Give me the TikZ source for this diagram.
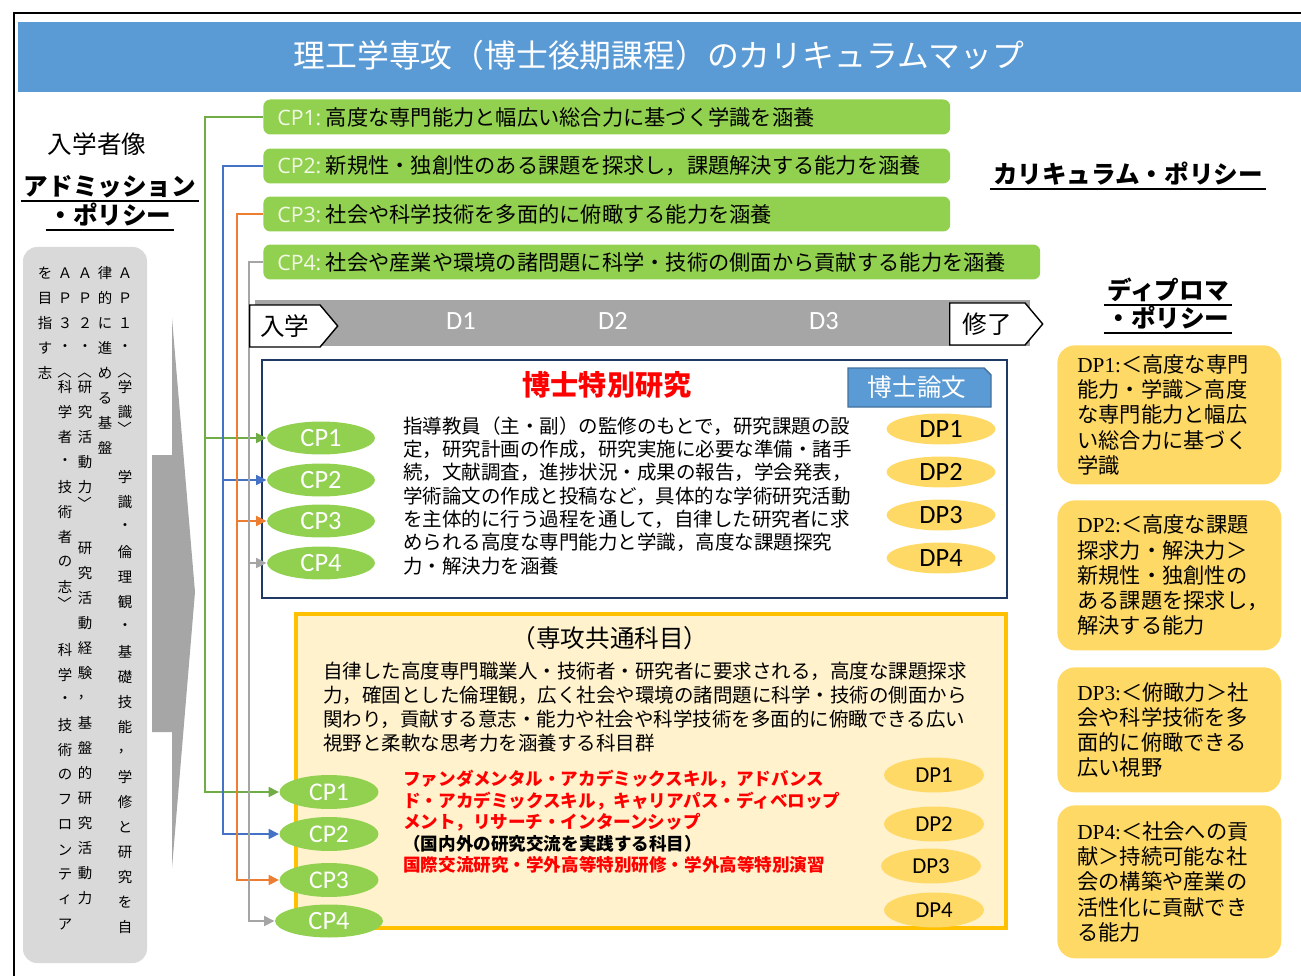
\documentclass[tikz,border=0pt]{standalone}
\usepackage{fontspec}
\setmainfont{Noto Sans CJK JP}
\newfontfamily\calfont{Carlito}
\newfontfamily\labfont{Open Sans}
\newfontfamily\dpserif{Liberation Serif}
\usetikzlibrary{arrows.meta,shapes.geometric,shapes.symbols}

\definecolor{bargreen}{HTML}{92D050}
\definecolor{lgreen}{HTML}{70AD47}
\definecolor{lblue}{HTML}{4472C4}
\definecolor{lorange}{HTML}{ED7D31}
\definecolor{lgray}{HTML}{A5A5A5}
\definecolor{banner}{HTML}{5B9BD5}
\definecolor{bannerline}{HTML}{41719C}
\definecolor{tlgray}{HTML}{A6A6A6}
\definecolor{navy}{HTML}{203864}
\definecolor{dpyellow}{HTML}{FFD966}
\definecolor{paleyellow}{HTML}{FFF2CC}
\definecolor{gold}{HTML}{FFC000}
\definecolor{apgray}{HTML}{D9D9D9}
\definecolor{cplab}{HTML}{F2F9E6}

% one column of the vertical admission text
\newcommand\apcol[3]{\foreach \ch [count=\k from 0] in {#3} {\node[apchar] (ap-#1-#2-\k) at (#1,#2+25*\k) {\ch};}}

\begin{document}
\begin{tikzpicture}[x=0.02cm,y=-0.02cm,
    every node/.style={inner sep=0pt},
    cpbar/.style={rectangle,rounded corners=4pt,fill=bargreen,anchor=west,minimum height=0.7cm,inner xsep=0.28cm,align=left,font=\fontsize{12.1}{12}\selectfont},
    cpoval/.style={ellipse,fill=bargreen,text=white,font=\calfont\fontsize{15}{15}\selectfont,minimum width=2.16cm,minimum height=0.66cm},
    dpoval/.style={ellipse,fill=dpyellow,font=\calfont\fontsize{15}{15}\selectfont,minimum width=2.18cm,minimum height=0.62cm},
    dpbox/.style={rectangle,rounded corners=10pt,fill=dpyellow,anchor=north west,minimum width=4.48cm,text width=3.68cm,inner xsep=0.4cm,align=left,font=\fontsize{12.1}{14.35}\selectfont},
    apchar/.style={font=\fontsize{8.2}{8.2}\selectfont},
    link/.style={line width=1.4pt,-{Triangle[length=6pt,width=5.5pt]}},
    uhead/.style={font=\bfseries\fontsize{14}{14}\selectfont,inner sep=1.5pt},
    period/.style={signal,signal to=east,draw=black,fill=white,line width=0.8pt,signal pointer angle=100,minimum height=0.84cm,font=\fontsize{14}{14}\selectfont}]
  \useasboundingbox (0,0) rectangle (1301,976);

  % frame and title
  \draw[line width=1.2pt] (14,976) -- (14,13) -- (1301,13);
  \fill[banner] (18,22) rectangle (1301,92);
  \node[text=white,font=\fontsize{18.1}{18}\selectfont] (title) at (659,55) {理工学専攻（博士後期課程）のカリキュラムマップ};

  % admission policy
  \node[font=\fontsize{14}{14}\selectfont] (nyugaku) at (97,144) {入学者像};
  \node[uhead] (ap1) at (110,187) {アドミッション};
  \node[uhead] (ap2) at (110,215) {・ポリシー};
  \draw[line width=1.2pt] (ap1.south west) -- (ap1.south east);
  \draw[line width=1.2pt] (ap2.south west) -- (ap2.south east);
  \fill[apgray,rounded corners=8pt] (23,247) rectangle (147,963);
  \apcol{125}{273}{Ａ,Ｐ,１,・}
  \apcol{125}{387}{学,識}
  \apcol{125}{477}{学,識,・,倫,理,観,・,基,礎,技,能,，,学,修,と,研,究,を,自}
  \apcol{105}{273}{律,的,に,進,め,る,基,盤}
  \apcol{85}{273}{Ａ,Ｐ,２,・}
  \apcol{85}{387}{研,究,活,動,力}
  \apcol{85}{548}{研,究,活,動,経,験,，,基,盤,的,研,究,活,動,力}
  \apcol{65}{273}{Ａ,Ｐ,３,・}
  \apcol{65}{387}{科,学,者,・,技,術,者,の,志}
  \apcol{65}{650}{科,学,・,技,術,の,フ,ロ,ン,テ,ィ,ア}
  \apcol{45}{273}{を,目,指,す,志}
  \foreach \cx/\top/\bot in {125/372/429, 85/372/504, 65/372/604} {
    \node[apchar,rotate=-90] (open-\cx) at (\cx,\top) {〈};
    \node[apchar,rotate=-90] (close-\cx) at (\cx,\bot) {〉};
  }
  \fill[tlgray] (152,455) -- (172,455) -- (172,318) -- (195,592) -- (172,868) -- (172,732) -- (152,732) -- cycle;

  % curriculum policy bars
  \node[cpbar,text width=13.18cm] (cpbar1) at (263,117) {{\labfont\color{cplab}CP1:}\hspace{2.5pt}高度な専門能力と幅広い総合力に基づく学識を涵養};
  \node[cpbar,text width=13.18cm] (cpbar2) at (263,166) {{\labfont\color{cplab}CP2:}\hspace{2.5pt}新規性・独創性のある課題を探求し，課題解決する能力を涵養};
  \node[cpbar,text width=13.18cm] (cpbar3) at (263,214) {{\labfont\color{cplab}CP3:}\hspace{2.5pt}社会や科学技術を多面的に俯瞰する能力を涵養};
  \node[cpbar,text width=14.98cm] (cpbar4) at (263,262) {{\labfont\color{cplab}CP4:}\hspace{2.5pt}社会や産業や環境の諸問題に科学・技術の側面から貢献する能力を涵養};
  \node[uhead] (cphead) at (1128,174) {カリキュラム・ポリシー};
  \draw[line width=1.2pt] (cphead.south west) -- (cphead.south east);

  % diploma policy
  \node[uhead] (dphead1) at (1168,290) {ディプロマ};
  \node[uhead] (dphead2) at (1168,318) {・ポリシー};
  \draw[line width=1.2pt] (dphead1.south west) -- (dphead1.south east);
  \draw[line width=1.2pt] (dphead2.south west) -- (dphead2.south east);
  \node[dpbox,minimum height=2.78cm] (dpbox1) at (1057,345) {{\dpserif DP1:}＜高度な専門\\能力・学識＞高度\\な専門能力と幅広\\い総合力に基づく\\学識};
  \node[dpbox,minimum height=3.0cm] (dpbox2) at (1057,500) {{\dpserif DP2:}＜高度な課題\\探求力・解決力＞\\新規性・独創性の\\ある課題を探求し，\\解決する能力};
  \node[dpbox,minimum height=2.5cm] (dpbox3) at (1057,667) {{\dpserif DP3:}＜俯瞰力＞社\\会や科学技術を多\\面的に俯瞰できる\\広い視野};
  \node[dpbox,minimum height=3.06cm] (dpbox4) at (1057,805) {{\dpserif DP4:}＜社会への貢\\献＞持続可能な社\\会の構築や産業の\\活性化に貢献でき\\る能力};

  % doctoral research
  \draw[navy,line width=1.5pt] (262,360) rectangle (1007,598);
  \node[font=\bfseries\fontsize{16}{16}\selectfont,text=red] (tokken) at (607,385) {博士特別研究};
  \filldraw[fill=banner,draw=bannerline,line width=0.8pt] (848,368) -- (984,368) -- (991,375) -- (991,407) -- (848,407) -- cycle;
  \node[text=white,font=\fontsize{14}{14}\selectfont] (ronbun) at (917,387) {博士論文};
  \node[anchor=north west,align=left,font=\fontsize{11.1}{13.3}\selectfont] (tokkentext) at (403,416) {指導教員（主・副）の監修のもとで，研究課題の設\\定，研究計画の作成，研究実施に必要な準備・諸手\\続，文献調査，進捗状況・成果の報告，学会発表，\\学術論文の作成と投稿など，具体的な学術研究活動\\を主体的に行う過程を通して，自律した研究者に求\\められる高度な専門能力と学識，高度な課題探究\\力・解決力を涵養};
  \foreach \i/\y in {1/438,2/480,3/521,4/563}
    \node[cpoval] (cpa\i) at (321,\y) {CP\i};
  \foreach \i/\y in {1/429,2/472,3/515,4/558}
    \node[dpoval] (dpa\i) at (941,\y) {DP\i};

  % common subjects
  \filldraw[fill=paleyellow,draw=gold,line width=2pt] (296,614) rectangle (1006,928);
  \node[font=\fontsize{14}{14}\selectfont] (kyotsu) at (610,638) {（専攻共通科目）};
  \node[anchor=north west,align=left,font=\fontsize{11.1}{13.6}\selectfont] (kyotsutext) at (323,662) {自律した高度専門職業人・技術者・研究者に要求される，高度な課題探求\\力，確固とした倫理観，広く社会や環境の諸問題に科学・技術の側面から\\関わり，貢献する意志・能力や社会や科学技術を多面的に俯瞰できる広い\\視野と柔軟な思考力を涵養する科目群};
  \node[anchor=north west,align=left,font=\bfseries\fontsize{10}{12.2}\selectfont] (kamoku) at (403,770) {\textcolor{red}{ファンダメンタル・アカデミックスキル，アドバンス}\\\textcolor{red}{ド・アカデミックスキル，キャリアパス・ディベロップ}\\\textcolor{red}{メント，リサーチ・インターンシップ}\\（国内外の研究交流を実践する科目）\\\textcolor{red}{国際交流研究・学外高等特別研修・学外高等特別演習}};
  \foreach \i/\y in {1/792,2/834,3/880}
    \node[cpoval,minimum width=1.98cm,minimum height=0.68cm,font=\calfont\fontsize{14.5}{14.5}\selectfont] (cpb\i) at (329,\y) {CP\i};
  \node[cpoval] (cpb4) at (329,921) {CP4};
  \foreach \i/\x/\y in {1/934/775,2/934/824,3/931/866,4/934/910}
    \node[dpoval,minimum width=2.0cm,minimum height=0.7cm,font=\calfont\fontsize{13}{13}\selectfont] (dpb\i) at (\x,\y) {DP\i};

  % connectors from the bars
  \coordinate (vgreen) at (205,0);
  \coordinate (vblue) at (223,0);
  \coordinate (vorange) at (237,0);
  \coordinate (vgray) at (249,0);
  \draw[link,lgreen] (cpbar1.west) -| (vgreen |- cpa1.west) -- (cpa1.west);
  \draw[link,lgreen] (cpbar1.west) -| (vgreen |- cpb1.west) -- (cpb1.west);
  \draw[link,lblue] (cpbar2.west) -| (vblue |- cpa2.west) -- (cpa2.west);
  \draw[link,lblue] (cpbar2.west) -| (vblue |- cpb2.west) -- (cpb2.west);
  \draw[link,lorange] (cpbar3.west) -| (vorange |- cpa3.west) -- (cpa3.west);
  \draw[link,lorange] (cpbar3.west) -| (vorange |- cpb3.west) -- (cpb3.west);
  \draw[link,lgray] (cpbar4.west) -| (vgray |- cpa4.west) -- (cpa4.west);
  \draw[link,lgray] (cpbar4.west) -| (vgray |- cpb4.west) -- (cpb4.west);

  % time line
  \fill[tlgray] (255,300) rectangle (1030,346);
  \node[period,anchor=west,minimum width=1.76cm] (enter) at (249,326) {入学};
  \node[period,anchor=west,minimum width=1.86cm] (finish) at (949,324) {修了};
  \foreach \d/\x in {1/461,2/613,3/824}
    \node[text=white,font=\calfont\fontsize{15}{15}\selectfont] (year\d) at (\x,321) {D\d};
\end{tikzpicture}
\end{document}
